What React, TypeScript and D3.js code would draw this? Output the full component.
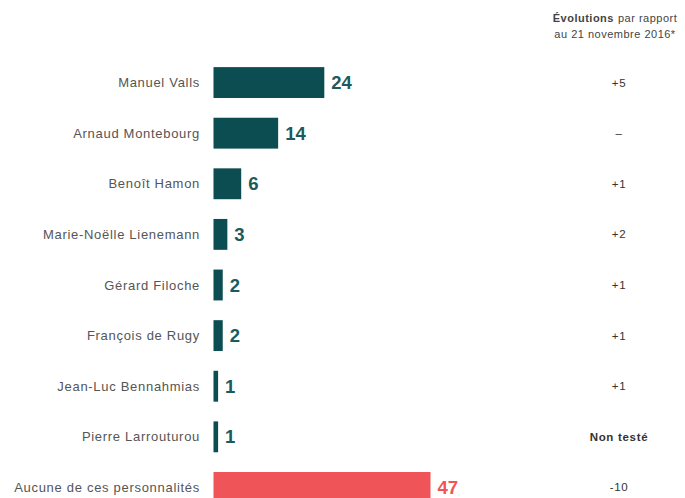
import React from "react";
import * as d3 from "d3";

const names = [
  "Manuel Valls",
  "Arnaud Montebourg",
  "Benoît Hamon",
  "Marie-Noëlle Lienemann",
  "Gérard Filoche",
  "François de Rugy",
  "Jean-Luc Bennahmias",
  "Pierre Larrouturou",
  "Aucune de ces personnalités",
];
const values = [24, 14, 6, 3, 2, 2, 1, 1, 47];
const evolutions = ["+5", "–", "+1", "+2", "+1", "+1", "+1", "Non testé", "-10"];

const W = 685;
const H = 498;

export default function App() {
  const x = d3.scaleLinear().domain([0, 47]).range([0, 217]);
  const y = d3
    .scaleBand<string>()
    .domain(names)
    .range([57, 513])
    .paddingInner(0.39)
    .paddingOuter(0.2);
  const x0 = 213.5;
  const teal = "#0b4d50";
  const red = "#ef5459";
  return (
    <svg
      width={W}
      height={H}
      style={{ position: "absolute", left: 0, top: 0, background: "#fff" }}
      fontFamily="'Liberation Sans', Arial, sans-serif"
    >
      <text x={615} y={22} textAnchor="middle" fontSize={11} letterSpacing={0.5} fill="#444">
        <tspan fontWeight="bold">Évolutions</tspan>
        <tspan dx={4}>par rapport</tspan>
      </text>
      <text x={615} y={38} textAnchor="middle" fontSize={11} letterSpacing={0.5} fill="#444">
        au 21 novembre 2016*
      </text>
      {names.map((n, i) => {
        const yy = y(n)!;
        const bw = y.bandwidth();
        const cy = yy + bw / 2;
        const last = i === names.length - 1;
        const col = last ? red : teal;
        const w = Math.max(2.5, x(values[i]));
        return (
          <g key={n}>
            <text
              x={200}
              y={cy}
              dy="0.35em"
              textAnchor="end"
              fontSize={13}
              letterSpacing={0.7}
              fill="#555"
            >
              {n}
            </text>
            <rect x={x0} y={yy} width={w} height={bw} fill={col} />
            <text
              x={x0 + w + 7}
              y={cy}
              dy="0.36em"
              fontSize={18.5}
              fontWeight="bold"
              fill={last ? red : "#1d5a5d"}
            >
              {values[i]}
            </text>
            <text
              x={619}
              y={cy}
              dy="0.35em"
              textAnchor="middle"
              fontSize={11.5}
              letterSpacing={0.7}
              fontWeight={evolutions[i] === "Non testé" ? "bold" : "normal"}
              fill="#333"
            >
              {evolutions[i]}
            </text>
          </g>
        );
      })}
    </svg>
  );
}
